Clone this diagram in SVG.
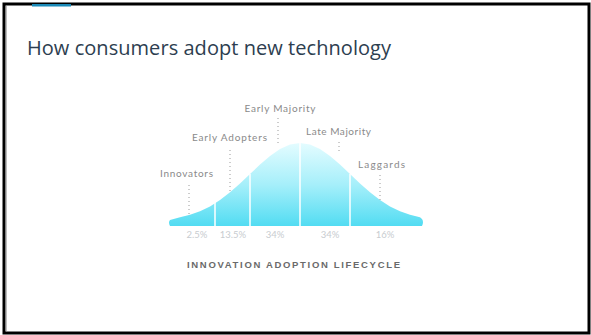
<svg xmlns="http://www.w3.org/2000/svg" width="591" height="335" viewBox="0 0 591 335">
  <defs>
    <linearGradient id="bell" x1="0" y1="143" x2="0" y2="226" gradientUnits="userSpaceOnUse">
      <stop offset="0" stop-color="#e4fcff"/>
      <stop offset="0.5" stop-color="#a6effa"/>
      <stop offset="1" stop-color="#52dcf2"/>
    </linearGradient>
    <style>
      .lbl { font-family: "Lato", "Liberation Sans", sans-serif; font-size: 10px; fill: #8a8a8a; text-anchor: middle; }
      .pct { font-family: "Lato", "Liberation Sans", sans-serif; font-size: 9.5px; fill: #c8ccd0; text-anchor: middle; }
      .lead { stroke: #9a9a9a; stroke-width: 1; stroke-dasharray: 1 3; fill: none; }
      .div { stroke: #ffffff; stroke-width: 1.5; }
    </style>
  </defs>
  <rect x="0" y="0" width="591" height="335" fill="#ffffff"/>
  <!-- frame -->
  <rect x="4" y="4" width="585" height="329" fill="none" stroke="#000000" stroke-width="3"/>
  <line x1="6.5" y1="6" x2="6.5" y2="331" stroke="#bdbdbd" stroke-width="1"/>
  <rect x="32" y="4" width="39" height="2.5" fill="#1b8ab8"/>
  <text x="27" y="55" font-family="'Open Sans', 'Liberation Sans', sans-serif" font-size="20" fill="#2d3e50" textLength="364">How consumers adopt new technology</text>

  <g id="curve">
    <path d="M170,226 Q168,222 170,220 L180,217.2 L190,214.8 L200,211.3 L210,206.4 L220,200.0 L230,192.3 L240,183.5 L250,174.1 L260,164.6 L270,156.0 L280,149.1 L290,144.5 L300,143 L310,144.5 L320,149.1 L330,156.0 L340,164.6 L350,174.1 L360,183.5 L370,192.3 L380,200.0 L390,206.4 L400,211.3 L410,214.8 L420,217.2 L422,219 Q424,222 422,226 Z" fill="url(#bell)"/>
  </g>
  <g id="dividers">
    <line class="div" x1="215" y1="202" x2="215" y2="226"/>
    <line class="div" x1="250" y1="174" x2="250" y2="226"/>
    <line class="div" x1="300" y1="143" x2="300" y2="226"/>
    <line class="div" x1="350" y1="174" x2="350" y2="226"/>
  </g>
  <g id="leaders">
    <line class="lead" x1="189" y1="185" x2="189" y2="214"/>
    <line class="lead" x1="230" y1="150" x2="230" y2="191"/>
    <line class="lead" x1="278" y1="118" x2="278" y2="143"/>
    <line class="lead" x1="339" y1="142" x2="339" y2="154"/>
    <line class="lead" x1="380" y1="175" x2="380" y2="201"/>
  </g>
  <g id="innovators"><text class="lbl" x="186.5" y="177" textLength="53">Innovators</text></g>
  <g id="early-adopters"><text class="lbl" x="229.5" y="141" textLength="75">Early Adopters</text></g>
  <g id="early-majority"><text class="lbl" x="280" y="112" textLength="71">Early Majority</text></g>
  <g id="late-majority"><text class="lbl" x="338.5" y="135" textLength="65">Late Majority</text></g>
  <g id="laggards"><text class="lbl" x="381.5" y="168" textLength="47">Laggards</text></g>
  <g id="percents">
    <text class="pct" x="197" y="238">2.5%</text>
    <text class="pct" x="233" y="238">13.5%</text>
    <text class="pct" x="275" y="238">34%</text>
    <text class="pct" x="330" y="238">34%</text>
    <text class="pct" x="385" y="238">16%</text>
  </g>
  <text x="293.5" y="268" font-family="'Liberation Sans', sans-serif" font-size="9.5" font-weight="bold" fill="#6a6a6a" text-anchor="middle" textLength="213" lengthAdjust="spacing">INNOVATION ADOPTION LIFECYCLE</text>
</svg>
